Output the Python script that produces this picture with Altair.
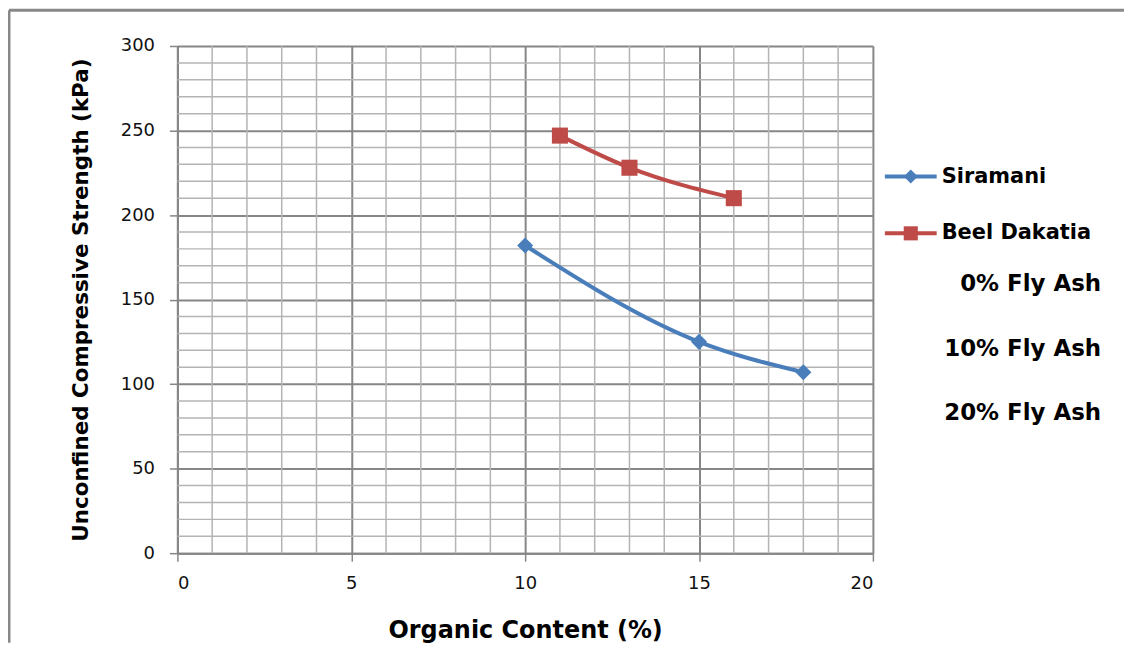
import altair as alt
import pandas as pd

# values
siramani_oc = [10, 15, 18]
siramani_ucs = [182, 125, 107]
beel_oc = [11, 13, 16]
beel_ucs = [247, 228, 210]

series_names = ["Siramani", "Beel Dakatia"]
series_colors = ["#4a7ebb", "#be4b48"]
series_shapes = ["diamond", "square"]
fly_ash_labels = ["0% Fly Ash", "10% Fly Ash", "20% Fly Ash"]

x_major = [0, 5, 10, 15, 20]
y_major = [0, 50, 100, 150, 200, 250, 300]
x_minor = [v for v in range(0, 21) if v % 5]
y_minor = [v for v in range(0, 301, 10) if v % 50]

df = pd.DataFrame({
    "oc": siramani_oc + beel_oc,
    "ucs": siramani_ucs + beel_ucs,
    "soil": [series_names[0]] * len(siramani_oc) + [series_names[1]] * len(beel_oc),
})

W, H = 698, 509
PAD = {"left": 170, "top": 37, "right": 252, "bottom": 90}
FONT = "DejaVu Sans"
DARK = "#868686"
LIGHT = "#b4b4b4"

x_scale = alt.Scale(domain=[0, 20], nice=False)
y_scale = alt.Scale(domain=[0, 300], nice=False)
color = alt.Color("soil:N", scale=alt.Scale(domain=series_names, range=series_colors), legend=None)
shape = alt.Shape("soil:N", scale=alt.Scale(domain=series_names, range=series_shapes), legend=None)

axis_common = dict(
    grid=True, gridColor=DARK, gridWidth=2,
    domainColor=DARK, domainWidth=2,
    tickColor=DARK, tickSize=8, tickWidth=1.5,
    labelFont=FONT, labelFontSize=18, labelColor="#111111",
    titleFont=FONT, titleFontWeight="bold", titleColor="#000000",
)

x_axis = alt.Axis(values=x_major, labelPadding=13, title="Organic Content (%)",
                  titleFontSize=24, titlePadding=27, **axis_common)
y_axis = alt.Axis(values=y_major, labelPadding=15, title="Unconfined Compressive Strength (kPa)",
                  titleFontSize=21.5, titlePadding=28, **axis_common)

X = lambda f: alt.X(f, scale=x_scale, axis=x_axis)
Y = lambda f: alt.Y(f, scale=y_scale, axis=y_axis)

# minor grid
minor_x = alt.Chart(pd.DataFrame({"v": x_minor})).mark_rule(color=LIGHT, strokeWidth=1.5).encode(
    x=X("v:Q")
)
minor_y = alt.Chart(pd.DataFrame({"v": y_minor})).mark_rule(color=LIGHT, strokeWidth=1.5).encode(
    y=Y("v:Q")
)

lines = alt.Chart(df).mark_line(strokeWidth=4, interpolate="monotone").encode(
    x=X("oc:Q"), y=Y("ucs:Q"), color=color,
)
points = alt.Chart(df).mark_point(filled=True, opacity=1, size=260).encode(
    x=X("oc:Q"), y=Y("ucs:Q"), color=color, shape=shape,
)

# outer frame (top and left edges)
frame_top = alt.Chart(pd.DataFrame({"a": [0]})).mark_rule(color="#888888", strokeWidth=3).encode(
    x=alt.value(-169), x2=alt.value(W + PAD["right"]), y=alt.value(-36)
)
frame_left = alt.Chart(pd.DataFrame({"a": [0]})).mark_rule(color="#888888", strokeWidth=3).encode(
    x=alt.value(-169), y=alt.value(-36), y2=alt.value(H + PAD["bottom"])
)

# hand-made legend
legend_layers = []
for i, name in enumerate(series_names):
    row = alt.Chart(pd.DataFrame({"soil": [name]}))
    ly = 131 + 57 * i
    legend_layers += [
        row.mark_rule(strokeWidth=4, color=series_colors[i]).encode(
            x=alt.value(710), x2=alt.value(762), y=alt.value(ly)
        ),
        row.mark_point(filled=True, opacity=1, size=200, shape=series_shapes[i],
                       color=series_colors[i]).encode(x=alt.value(736), y=alt.value(ly)),
        row.mark_text(align="left", baseline="middle", font=FONT, fontWeight="bold",
                      fontSize=21, color="#000000").encode(
            x=alt.value(767), y=alt.value(ly), text="soil:N"
        ),
    ]

ash_ys = [239, 304, 368]
for lab, ay in zip(fly_ash_labels, ash_ys):
    legend_layers.append(
        alt.Chart(pd.DataFrame({"t": [lab]})).mark_text(
            align="right", baseline="middle", font=FONT, fontWeight="bold",
            fontSize=23, color="#000000"
        ).encode(x=alt.value(927), y=alt.value(ay), text="t:N")
    )

chart = alt.layer(
    frame_top, frame_left, minor_x, minor_y, lines, points, *legend_layers
).properties(
    width=W, height=H,
    autosize=alt.AutoSizeParams(type="none"),
    padding=PAD,
    background="white",
).configure_view(stroke=None)

chart.save("out.html", embed_options={"renderer": "svg", "actions": False})
